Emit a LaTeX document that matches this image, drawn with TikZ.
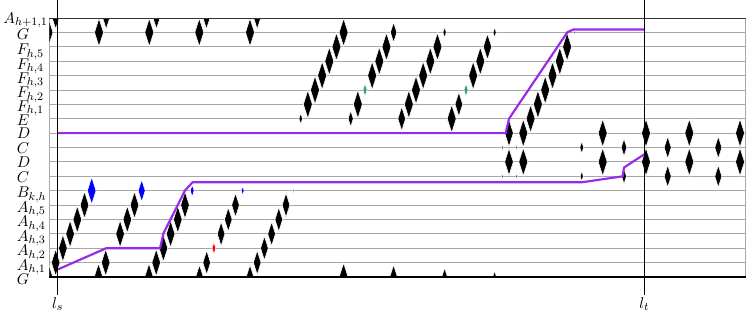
\documentclass[tikz,border=0pt]{standalone}
\usepackage{amsmath}
\definecolor{purp}{RGB}{153,40,235}
\definecolor{dgreen}{RGB}{50,160,110}
\tikzset{
  rowline/.style={draw=black!35, line width=0.6pt},
  dia/.style={draw=white, line width=0.4pt},
  pline/.style={draw=purp, line width=1.5pt, line join=round},
  lab/.style={inner sep=0pt, font=\fontsize{11}{13}\selectfont},
  tline/.style={draw=black, line width=0.6pt},
}
\newcommand\dm[4][black]{\path[dia,fill=#1] (#2,#3) +(0,-#4) -- +({0.32*#4},0) -- +(0,#4) -- +({-0.32*#4},0) -- cycle;}
\begin{document}
\begin{tikzpicture}[x=0.7pt,y=-0.7pt]
\useasboundingbox (0,0) rectangle (747,317);
% row lines
\foreach \i in {1,...,17} \draw[rowline] (49.3,{18+14.39*\i}) -- (745.5,{18+14.39*\i});
\draw[rowline] (49.3,18) -- (49.3,277);
\draw[rowline] (745.5,18) -- (745.5,277);
\begin{scope}
\clip (49.3,18) rectangle (745.5,277);
% bottom chains
\dm{48.5}{277}{13.5}\dm{55.7}{262.6}{13.5}\dm{62.9}{248.2}{13.5}\dm{70.1}{233.9}{13.5}\dm{77.3}{219.5}{13.5}\dm{84.5}{205.1}{13.5}\dm[blue]{91.7}{190.7}{13.5}
\dm{98.5}{277}{13.5}\dm{105.7}{262.6}{13.5}\dm{120.1}{233.9}{13.5}\dm{127.3}{219.5}{13.5}\dm{134.5}{205.1}{13.5}\dm[blue]{141.7}{190.7}{11}
\dm{149}{277}{13.5}\dm{156.2}{262.6}{13.5}\dm{163.4}{248.2}{13.5}\dm{170.6}{233.9}{13.5}\dm{177.8}{219.5}{13.5}\dm{185}{205.1}{13.5}\dm[blue]{192.2}{190.7}{6}
\dm{199.5}{277}{12}\dm{206.7}{262.6}{12}\dm[red]{213.9}{248.2}{6}\dm{221.1}{233.9}{12}\dm{228.3}{219.5}{12}\dm{235.5}{205.1}{12}\dm[blue]{242.7}{190.7}{4.5}
\dm{250}{277}{12}\dm{257.2}{262.6}{12}\dm{264.4}{248.2}{12}\dm{271.6}{233.9}{12}\dm{278.8}{219.5}{12}\dm{286}{205.1}{12}\dm[blue]{293.2}{190.7}{2.5}
% top rows
\foreach \x in {48.5,99,149.3,199.3,250} {\dm{\x}{32.4}{14}}
\foreach \x in {55.7,106.2,156.5,206.5,257.2} {\dm{\x}{18}{11}}
% top chains
\dm{300.7}{118.7}{5.5}\dm{307.85}{104.3}{14}\dm{315}{90}{14}\dm{322.15}{75.6}{14}\dm{329.3}{61.2}{14}\dm{336.45}{46.8}{14}\dm{343.6}{32.4}{14}
\dm{350.7}{118.7}{8}\dm{357.85}{104.3}{14}\dm[dgreen]{365}{90}{6.5}\dm{372.15}{75.6}{14}\dm{379.3}{61.2}{14}\dm{386.45}{46.8}{14}\dm{393.6}{32.4}{10}
\dm{401.7}{118.7}{12}\dm{408.85}{104.3}{14}\dm{416}{90}{14}\dm{423.15}{75.6}{14}\dm{430.3}{61.2}{14}\dm{437.45}{46.8}{14}\dm{444.6}{32.4}{5.3}
\dm{451.7}{118.7}{14}\dm{458.85}{104.3}{12}\dm[dgreen]{466}{90}{6.5}\dm{473.15}{75.6}{14}\dm{480.3}{61.2}{14}\dm{487.45}{46.8}{13}\dm{494.6}{32.4}{5}
\dm{523.3}{133.1}{14}\dm{530.6}{118.7}{14}\dm{537.9}{104.3}{14}\dm{545.2}{90}{14}\dm{552.5}{75.6}{14}\dm{559.8}{61.2}{14}\dm{567.1}{46.8}{14}\dm{574.4}{32.4}{2.5}
% bottom G row
\dm{343.6}{277}{14}\dm{393.6}{277}{12}\dm{444.6}{277}{9}\dm{494.6}{277}{6}
% D / C region
\dm{502.3}{147.5}{2.8}\dm{502.3}{176.3}{2.7}
\dm{509}{133.1}{13.5}\dm{509}{161.9}{13.5}
\dm{516.7}{147.5}{2.7}\dm{516.7}{176.3}{2.7}
\dm{523.3}{161.9}{14}
\dm{581.7}{147.5}{6}\dm{581.7}{176.3}{5}
\dm{602.7}{133.1}{14}\dm{602.7}{161.9}{14}
\dm{624}{147.5}{8.7}\dm{624}{176.3}{7.5}
\dm{646}{133.1}{14}\dm{646}{161.9}{14}
\dm{667.7}{147.5}{11}\dm{667.7}{176.3}{11}
\dm{689.3}{133.1}{14}\dm{689.3}{161.9}{14}
\dm{718.3}{147.5}{11}\dm{718.3}{176.3}{11}
\dm{740}{133.1}{14}\dm{740}{161.9}{14}
\end{scope}
% purple paths
\draw[pline] (57.7,133.1) -- (505.7,133.1) -- (509,118.7) -- (567.3,32.3) -- (573.3,29.5) -- (644.3,29.5);
\draw[pline] (57.7,269.5) -- (106,248.3) -- (160,248.3) -- (163.5,233.3) -- (185,190.5) -- (192.5,182.3) -- (581.7,182.3) -- (622.7,176.3) -- (624,167.5) -- (644.3,154.3);
% frame
\draw[black!80, line width=0.7pt] (49.3,18) -- (745.5,18);
\draw[black, line width=1pt] (49.3,277) -- (745.5,277);
% time markers
\node[lab, anchor=north] (ls) at (57.7,297) {$l_s$};
\node[lab, anchor=north] (lt) at (644.3,297) {$l_t$};
\coordinate (lstop) at (57.7,0);
\coordinate (lttop) at (644.3,0);
\draw[tline] (lstop) -- ([yshift=1.5pt]ls.north);
\draw[tline] (lttop) -- ([yshift=1.5pt]lt.north);
% labels
\node[lab, anchor=base east] (r0) at (48,23) {$A_{h+1,1}$};
\node[lab, anchor=base west] (r1) at (16.5,39) {$G$};
\node[lab, anchor=base west] (r2) at (16.5,54.5) {$F_{h,5}$};
\node[lab, anchor=base west] (r3) at (16.5,69) {$F_{h,4}$};
\node[lab, anchor=base west] (r4) at (16.5,83.4) {$F_{h,3}$};
\node[lab, anchor=base west] (r5) at (16.5,97.8) {$F_{h,2}$};
\node[lab, anchor=base west] (r6) at (16.5,111.2) {$F_{h,1}$};
\node[lab, anchor=base west] (r7) at (16.5,125) {$E$};
\node[lab, anchor=base west] (r8) at (16.5,138.6) {$D$};
\node[lab, anchor=base west] (r9) at (16.5,153) {$C$};
\node[lab, anchor=base west] (r10) at (16.5,167.6) {$D$};
\node[lab, anchor=base west] (r11) at (16.5,182) {$C$};
\node[lab, anchor=base west] (r12) at (16.5,197.5) {$B_{k,h}$};
\node[lab, anchor=base west] (r13) at (16.5,212) {$A_{h,5}$};
\node[lab, anchor=base west] (r14) at (16.5,226.5) {$A_{h,4}$};
\node[lab, anchor=base west] (r15) at (16.5,241) {$A_{h,3}$};
\node[lab, anchor=base west] (r16) at (16.5,255.5) {$A_{h,2}$};
\node[lab, anchor=base west] (r17) at (16.5,270) {$A_{h,1}$};
\node[lab, anchor=base west] (r18) at (16.5,284) {$G$};
\end{tikzpicture}
\end{document}
